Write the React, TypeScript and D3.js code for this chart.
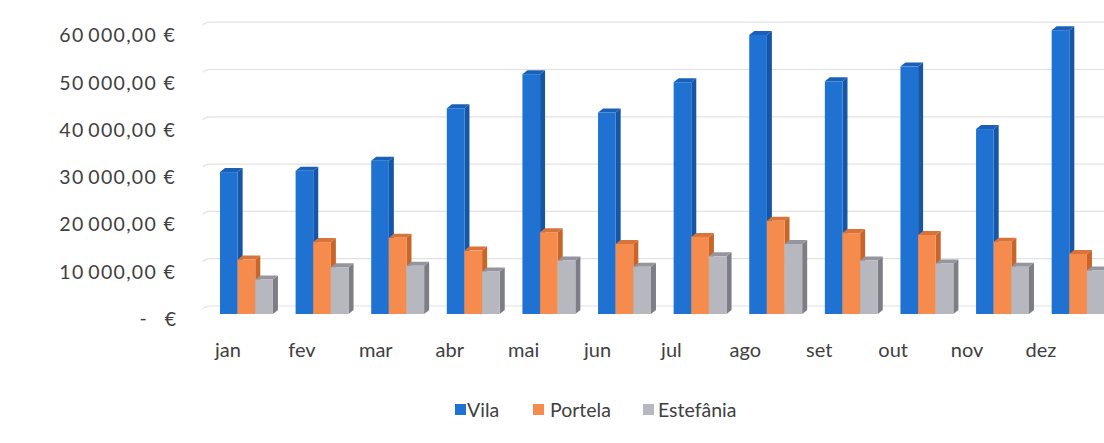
import React from "react";
import * as d3 from "d3";

const months = ["jan", "fev", "mar", "abr", "mai", "jun", "jul", "ago", "set", "out", "nov", "dez"];
const seriesNames = ["Vila", "Portela", "Estefânia"];
const vila = [30000, 30300, 32400, 43500, 50700, 42600, 49000, 59000, 49200, 52300, 39100, 60000];
const portela = [11500, 15200, 16100, 13400, 17300, 14800, 16300, 19700, 17100, 16700, 15300, 12700];
const estefania = [7300, 9900, 10200, 9000, 11300, 10000, 12200, 14800, 11300, 10700, 10000, 9200];
const yTicks = [0, 10000, 20000, 30000, 40000, 50000, 60000];

const frontColors = ["#1f72d2", "#f58b4c", "#b7b7bf"];
const sideColors = ["#1556a6", "#c8662a", "#7d7d85"];
const topColors = ["#1a60b8", "#d8733a", "#95959d"];

const W = 1104;
const H = 443;
const FONT = "Lato, 'Open Sans', sans-serif";
const TXT = "#404040";

const locale = d3.formatLocale({
  decimal: ",",
  thousands: "\u2009",
  grouping: [3],
  currency: ["", " €"],
});
const fmt = locale.format("$,.2f");

export default function App() {
  const seriesValues = [vila, portela, estefania];
  const y = d3.scaleLinear().domain([0, 60000]).range([314, 30.2]);
  const x0 = d3.scaleBand<string>().domain(months).range([220, 1104.6]).paddingInner(0.3).paddingOuter(0);
  const x1 = d3.scaleBand<string>().domain(seriesNames).range([0, x0.bandwidth()]);
  const xLabel = d3.scalePoint<string>().domain(months).range([228, 1041]);
  const dx = 5;
  const dy = 4;
  const backOffset = 8;

  return (
    <svg width={W} height={H} style={{ position: "absolute", left: 0, top: 0, background: "#fff" }} fontFamily={FONT}>
      <rect x={0} y={0} width={W} height={H} fill="#fff" />
      {/* back-wall gridlines */}
      {yTicks.map((t) => (
        <path
          key={"g" + t}
          d={`M203,${y(t) - backOffset + 3} Q205,${y(t) - backOffset} 210,${y(t) - backOffset} L${W},${y(t) - backOffset}`}
          stroke="#e2e2e2"
          strokeWidth={1.2}
          fill="none"
        />
      ))}
      {/* y labels */}
      {yTicks.map((t) =>
        t === 0 ? (
          <g key={"l" + t} fill={TXT} fontSize={19.5}>
            <text x={143} y={y(t) + 11} textAnchor="middle">-</text>
            <text x={176} y={y(t) + 12} textAnchor="end">€</text>
          </g>
        ) : (
          <text key={"l" + t} x={176} y={y(t) + 12} textAnchor="end" fill={TXT} fontSize={19.5} letterSpacing={1.3}>
            {fmt(t)}
          </text>
        )
      )}
      {/* bars */}
      {months.map((m, i) => (
        <g key={m}>
          {seriesNames.map((s, k) => {
            const v = seriesValues[k][i];
            const x = (x0(m) as number) + (x1(s) as number);
            const w = x1.bandwidth();
            const yt = y(v);
            const yb = y(0);
            return (
              <g key={s}>
                <polygon
                  points={`${x + w},${yt} ${x + w + dx},${yt - dy} ${x + w + dx},${yb - dy} ${x + w},${yb}`}
                  fill={sideColors[k]}
                />
                <polygon
                  points={`${x},${yt} ${x + dx},${yt - dy} ${x + w + dx},${yt - dy} ${x + w},${yt}`}
                  fill={topColors[k]}
                />
                <rect x={x} y={yt} width={w} height={yb - yt} fill={frontColors[k]} />
              </g>
            );
          })}
        </g>
      ))}
      {/* x labels */}
      {months.map((m) => (
        <text key={"x" + m} x={xLabel(m)} y={357} textAnchor="middle" fill={TXT} fontSize={20}>
          {m}
        </text>
      ))}
      {/* legend */}
      {[
        { sx: 455, tx: 467 },
        { sx: 533, tx: 550 },
        { sx: 643, tx: 658 },
      ].map((p, k) => (
        <g key={"lg" + k}>
          <rect x={p.sx} y={404} width={11} height={11} fill={frontColors[k]} />
          <text x={p.tx} y={417} fill={TXT} fontSize={19.5}>
            {seriesNames[k]}
          </text>
        </g>
      ))}
    </svg>
  );
}
